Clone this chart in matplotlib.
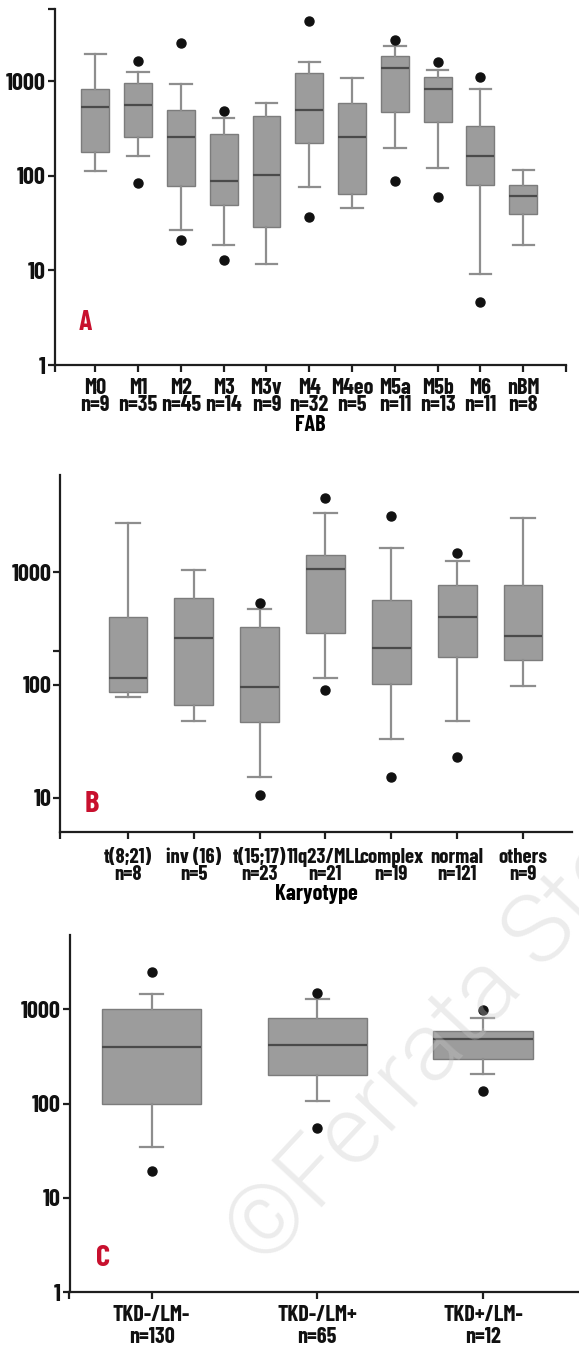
import matplotlib
matplotlib.use("Agg")
import matplotlib.pyplot as plt
from matplotlib import font_manager as fm
from matplotlib.ticker import NullLocator, FixedLocator, FixedFormatter

plt.rcParams['font.weight'] = 'bold'

# ---------------- Panel A: FAB ----------------
fab_labels = ["M0", "M1", "M2", "M3", "M3v", "M4", "M4eo", "M5a", "M5b", "M6", "nBM"]
fab_n = [9, 35, 45, 14, 9, 32, 5, 11, 13, 11, 8]
fab_whislo = [114, 162, 26.6, 18.6, 11.6, 76, 46, 197, 121, 9.1, 18.6]
fab_q1 = [181, 258, 77.6, 49, 28.9, 224, 64, 476, 372, 81, 40]
fab_med = [533, 560, 258, 89, 103, 495, 258, 1396, 843, 164, 61]
fab_q3 = [843, 968, 495, 275, 432, 1217, 598, 1862, 1104, 335, 80]
fab_whishi = [1954, 1247, 952, 410, 598, 1618, 1076, 2377, 1318, 843, 117]
fab_fliers = [[], [85, 1644], [20.8, 2537], [12.9, 483], [], [36.9, 4315], [],
              [89, 2775], [60, 1618], [4.6, 1104], []]

# ---------------- Panel B: Karyotype ----------------
kar_labels = ["t(8;21)", "inv (16)", "t(15;17)", "11q23/MLL", "complex", "normal", "others"]
kar_n = [8, 5, 23, 21, 19, 121, 9]
kar_whislo = [79, 48, 15.3, 115, 33, 48, 97]
kar_q1 = [87, 66, 47, 288, 101, 178, 167]
kar_med = [115, 259, 95, 1070, 212, 403, 274]
kar_q3 = [403, 596, 329, 1423, 568, 771, 771]
kar_whishi = [2725, 1048, 472, 3380, 1653, 1268, 3015]
kar_fliers = [[], [], [10.5, 537], [90, 4590], [15.3, 3160], [22.8, 1492], []]

# ---------------- Panel C: FLT3 status ----------------
flt_labels = ["TKD-/LM-", "TKD-/LM+", "TKD+/LM-"]
flt_n = [130, 65, 12]
flt_whislo = [35, 106, 208]
flt_q1 = [100, 203, 300]
flt_med = [394, 414, 483]
flt_q3 = [1000, 804, 592]
flt_whishi = [1449, 1274, 804]
flt_fliers = [[19.2, 2488], [55.8, 1496], [136, 984]]

# pick a condensed bold family if one is installed (with matching sizes)
names = {f.name for f in fm.fontManager.ttflist}
candidates = [('Barlow Condensed', 16, 17.5), ('Roboto Condensed', 15, 15),
              ('Liberation Sans Narrow', 15, 15), ('Liberation Sans', 13, 13)]
FAMILY, FSX, FSY = next(c for c in candidates if c[0] in names)
plt.rcParams['font.family'] = [FAMILY, 'DejaVu Sans']

W, H = 579, 1345
fig = plt.figure(figsize=(W / 100, H / 100), dpi=100)

BOX_FACE = '#9c9c9c'
BOX_EDGE = '#7c7c7c'
MED = '#4a4a4a'
WHISK = '#8e8e8e'
AX_COL = '#1e1e1e'
RED = '#c8102e'


def px_axes(left, right, top, bottom):
    return fig.add_axes([left / W, 1 - bottom / H, (right - left) / W, (bottom - top) / H])


def draw_panel(ax, labels, ns, wl, q1, med, q3, wh, fl, width, capw, xlim, ylim,
               yticks, ylabels, extra_xticks, linesp, xpad, fsx):
    stats = []
    for i in range(len(labels)):
        stats.append(dict(med=med[i], q1=q1[i], q3=q3[i], whislo=wl[i], whishi=wh[i],
                          fliers=fl[i], label=labels[i]))
    pos = list(range(len(labels)))
    ax.bxp(stats, positions=pos, widths=width, capwidths=capw, patch_artist=True,
           showfliers=True,
           boxprops=dict(facecolor=BOX_FACE, edgecolor=BOX_EDGE, linewidth=1.0),
           medianprops=dict(color=MED, linewidth=1.6),
           whiskerprops=dict(color=WHISK, linewidth=1.6),
           capprops=dict(color=WHISK, linewidth=1.6),
           flierprops=dict(marker='o', markerfacecolor='#111111', markeredgecolor='#111111',
                           markersize=6.5))
    ax.set_yscale('log')
    ax.set_xlim(*xlim)
    ax.set_ylim(*ylim)
    for s in ['top', 'right']:
        ax.spines[s].set_visible(False)
    for s in ['left', 'bottom']:
        ax.spines[s].set_linewidth(1.6)
        ax.spines[s].set_color(AX_COL)
    ax.yaxis.set_major_locator(FixedLocator(yticks))
    ax.yaxis.set_major_formatter(FixedFormatter(ylabels))
    ax.yaxis.set_minor_locator(NullLocator())
    xt = pos + extra_xticks
    xl = [f"{l}\nn={n}" for l, n in zip(labels, ns)] + [""] * len(extra_xticks)
    ax.set_xticks(xt)
    ax.set_xticklabels(xl, linespacing=linesp)
    ax.tick_params(axis='both', colors=AX_COL, width=1.6, length=5, pad=2)
    ax.tick_params(axis='x', pad=xpad, labelsize=fsx)
    ax.tick_params(axis='y', labelsize=FSY, pad=1.5)
    for t in ax.get_xticklabels() + ax.get_yticklabels():
        t.set_fontweight('bold')
        t.set_color('#111111')
    ax.patch.set_alpha(0)


# Panel A
axA = px_axes(55, 566, 9.3, 365)
draw_panel(axA, fab_labels, fab_n, fab_whislo, fab_q1, fab_med, fab_q3, fab_whishi, fab_fliers,
           0.65, 0.5, (-0.94, 11.0), (1, 5807), [1, 10, 100, 1000, 5807],
           ["1", "10", "100", "1000", ""], [11.0, -0.94], 0.8, 4.5, FSX)
axA.set_xlabel("FAB", fontsize=FSX, fontweight='bold', labelpad=0)

# Panel B
axB = px_axes(60.2, 571.7, 475, 832.3)
draw_panel(axB, kar_labels, kar_n, kar_whislo, kar_q1, kar_med, kar_q3, kar_whishi, kar_fliers,
           0.59, 0.35, (-1.03, 6.74), (4.93, 7295), [10, 100, 200, 1000],
           ["10", "100", "", "1000"], [-1.03], 0.86, 6.5, FSX - 1)
axB.set_xlabel("Karyotype", fontsize=FSX, fontweight='bold', labelpad=0)

# Panel C
axC = px_axes(69.5, 579, 935, 1292.3)
draw_panel(axC, flt_labels, flt_n, flt_whislo, flt_q1, flt_med, flt_q3, flt_whishi, flt_fliers,
           0.60, 0.14, (-0.495, 2.58), (1, 6140), [1, 10, 100, 1000],
           ["1", "10", "100", "1000"], [-0.495], 1.08, 4.5, FSX)

# Panel letters
fig.text(85 / W, 1 - 323 / H, "A", color=RED, fontsize=20, fontweight='bold', ha='center', va='center')
fig.text(92 / W, 1 - 805 / H, "B", color=RED, fontsize=22, fontweight='bold', ha='center', va='center')
fig.text(103 / W, 1 - 1258 / H, "C", color=RED, fontsize=22, fontweight='bold', ha='center', va='center')

# Watermark
fig.text(244 / W, 1 - 1252 / H, "©Ferrata Storti", family=['Roboto', 'DejaVu Sans'],
         fontweight=300, fontsize=70, color='#c8c8c8', alpha=0.35, rotation=47,
         rotation_mode='anchor', ha='left', va='center', zorder=10)

fig.savefig("out.png", dpi=100)
